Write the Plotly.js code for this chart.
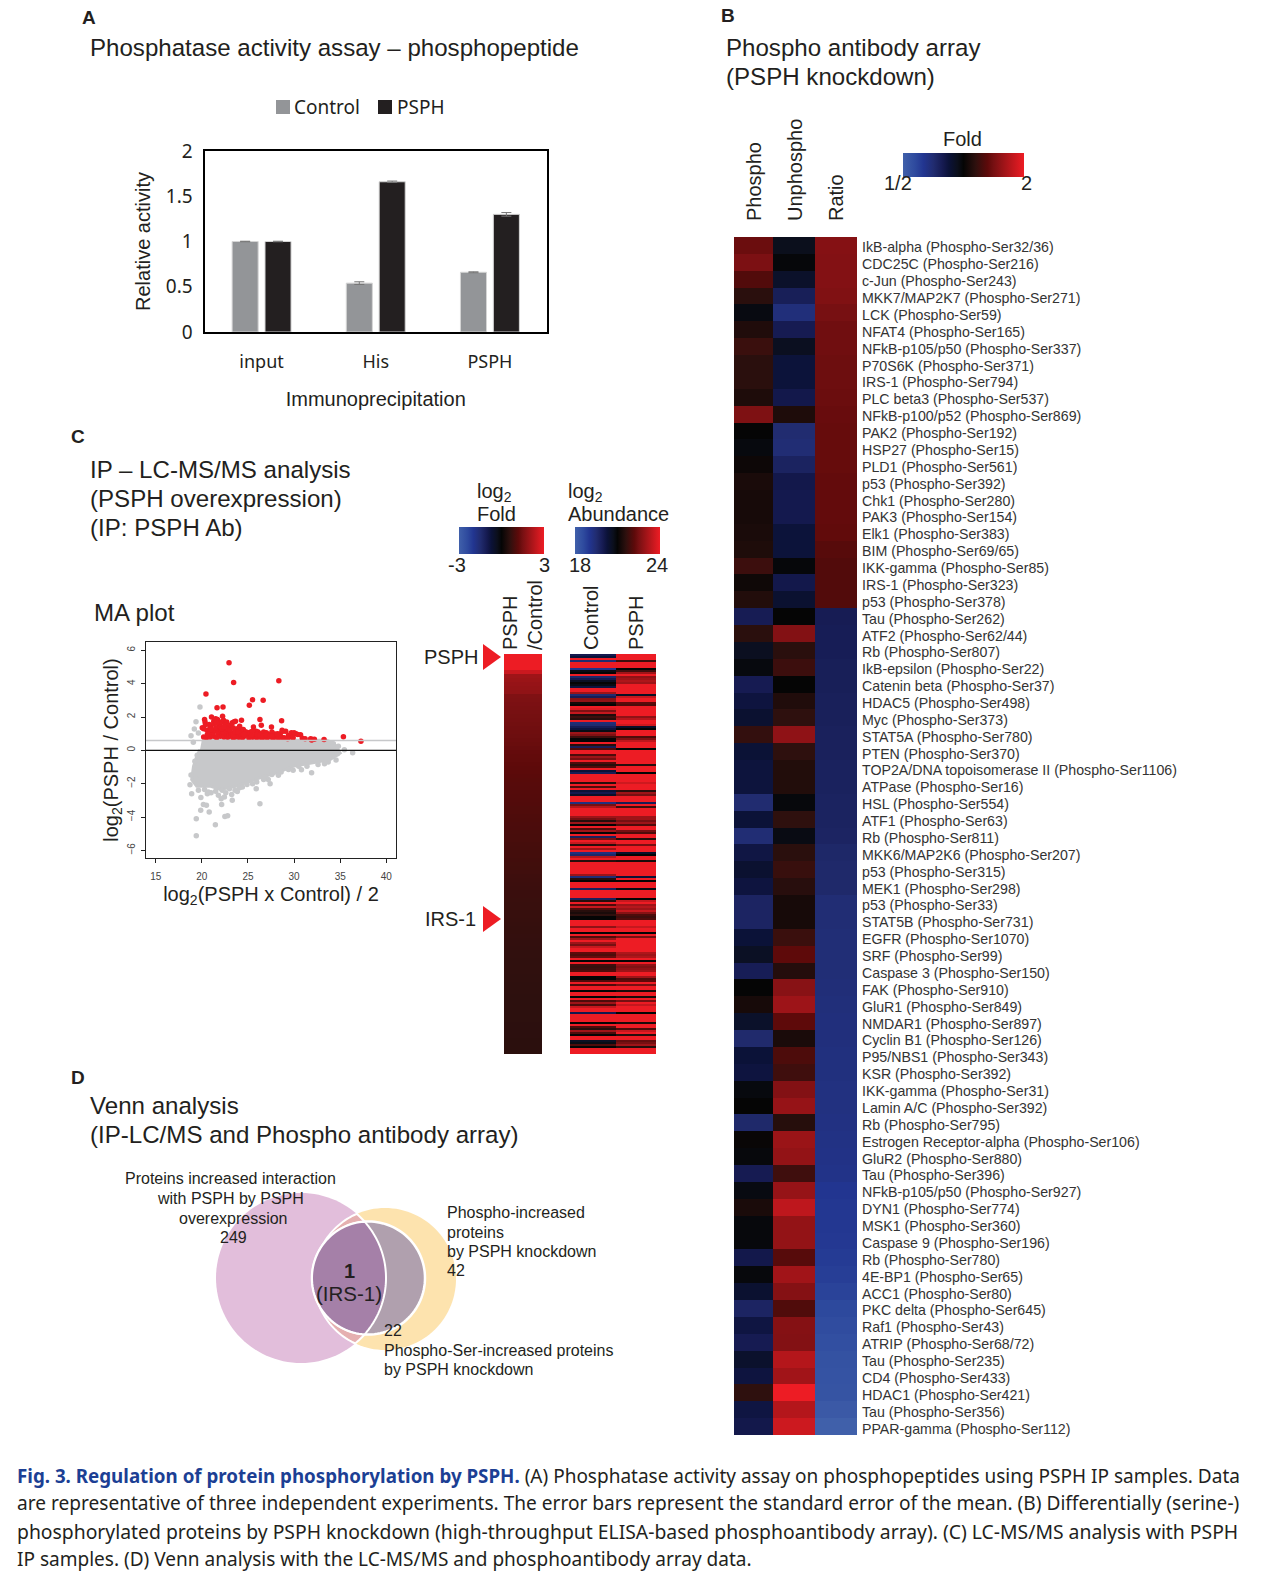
<!DOCTYPE html>
<html><head><meta charset="utf-8">
<script src="https://cdn.plot.ly/plotly-3.0.1.min.js"></script>
<style>html,body{margin:0;padding:0;background:#fff}#chart{width:1261px;height:1583px}</style>
</head><body><div id="chart"></div>
<script>
const W=1261,H=1583;
// ---------- Panel A ----------
const assayCats=['input','His','PSPH'];
const assayControl=[1.0,0.54,0.66];
const assayPSPH=[1.0,1.66,1.30];
const assayControlErr=[0.003,0.015,0.005];
const assayPSPHErr=[0.003,0.008,0.02];
// ---------- Panel B ----------
const arrayLabels=['IkB-alpha (Phospho-Ser32/36)','CDC25C (Phospho-Ser216)','c-Jun (Phospho-Ser243)','MKK7/MAP2K7 (Phospho-Ser271)','LCK (Phospho-Ser59)','NFAT4 (Phospho-Ser165)','NFkB-p105/p50 (Phospho-Ser337)','P70S6K (Phospho-Ser371)','IRS-1 (Phospho-Ser794)','PLC beta3 (Phospho-Ser537)','NFkB-p100/p52 (Phospho-Ser869)','PAK2 (Phospho-Ser192)','HSP27 (Phospho-Ser15)','PLD1 (Phospho-Ser561)','p53 (Phospho-Ser392)','Chk1 (Phospho-Ser280)','PAK3 (Phospho-Ser154)','Elk1 (Phospho-Ser383)','BIM (Phospho-Ser69/65)','IKK-gamma (Phospho-Ser85)','IRS-1 (Phospho-Ser323)','p53 (Phospho-Ser378)','Tau (Phospho-Ser262)','ATF2 (Phospho-Ser62/44)','Rb (Phospho-Ser807)','IkB-epsilon (Phospho-Ser22)','Catenin beta (Phospho-Ser37)','HDAC5 (Phospho-Ser498)','Myc (Phospho-Ser373)','STAT5A (Phospho-Ser780)','PTEN (Phospho-Ser370)','TOP2A/DNA topoisomerase II (Phospho-Ser1106)','ATPase (Phospho-Ser16)','HSL (Phospho-Ser554)','ATF1 (Phospho-Ser63)','Rb (Phospho-Ser811)','MKK6/MAP2K6 (Phospho-Ser207)','p53 (Phospho-Ser315)','MEK1 (Phospho-Ser298)','p53 (Phospho-Ser33)','STAT5B (Phospho-Ser731)','EGFR (Phospho-Ser1070)','SRF (Phospho-Ser99)','Caspase 3 (Phospho-Ser150)','FAK (Phospho-Ser910)','GluR1 (Phospho-Ser849)','NMDAR1 (Phospho-Ser897)','Cyclin B1 (Phospho-Ser126)','P95/NBS1 (Phospho-Ser343)','KSR (Phospho-Ser392)','IKK-gamma (Phospho-Ser31)','Lamin A/C (Phospho-Ser392)','Rb (Phospho-Ser795)','Estrogen Receptor-alpha (Phospho-Ser106)','GluR2 (Phospho-Ser880)','Tau (Phospho-Ser396)','NFkB-p105/p50 (Phospho-Ser927)','DYN1 (Phospho-Ser774)','MSK1 (Phospho-Ser360)','Caspase 9 (Phospho-Ser196)','Rb (Phospho-Ser780)','4E-BP1 (Phospho-Ser65)','ACC1 (Phospho-Ser80)','PKC delta (Phospho-Ser645)','Raf1 (Phospho-Ser43)','ATRIP (Phospho-Ser68/72)','Tau (Phospho-Ser235)','CD4 (Phospho-Ser433)','HDAC1 (Phospho-Ser421)','Tau (Phospho-Ser356)','PPAR-gamma (Phospho-Ser112)'];
const arrayColumns=['Phospho','Unphospho','Ratio'];
const arrayPhospho=[.45,.52,.35,.18,-.05,.13,.25,.18,.18,.12,.53,0,-.04,.04,.1,.09,.09,.1,.12,.26,.05,.14,-.36,.18,-.12,-.04,-.35,-.27,-.2,.22,-.23,-.26,-.26,-.5,-.24,-.52,-.29,-.2,-.27,-.43,-.43,-.24,-.14,-.37,0,.09,-.17,-.48,-.24,-.27,-.04,0,-.47,.02,-.03,-.35,-.05,.1,-.03,-.03,-.32,-.03,-.2,-.43,-.28,-.35,-.18,-.27,.2,-.28,-.32];
const arrayUnphospho=[-.1,-.02,-.17,-.38,-.55,-.35,-.12,-.25,-.25,-.32,.12,-.5,-.52,-.42,-.32,-.33,-.33,-.25,-.25,-.02,-.32,-.2,0,.55,.18,.26,0,.13,.2,.6,.2,.14,.14,-.03,.2,-.06,.18,.24,.17,.09,.09,.25,.4,.15,.57,.66,.4,.1,.33,.27,.55,.63,.16,.65,.62,.27,.63,.8,.62,.62,.37,.68,.56,.34,.56,.55,.76,.68,1,.76,.86];
const arrayRatio=[.56,.55,.55,.54,.5,.47,.47,.46,.46,.45,.44,.43,.43,.43,.42,.42,.42,.41,.37,.35,.35,.35,-.36,-.37,-.37,-.38,-.38,-.39,-.39,-.4,-.4,-.41,-.41,-.42,-.42,-.43,-.46,-.47,-.47,-.52,-.52,-.53,-.53,-.53,-.54,-.55,-.56,-.56,-.57,-.57,-.58,-.58,-.59,-.6,-.61,-.62,-.66,-.67,-.67,-.68,-.7,-.72,-.75,-.79,-.82,-.85,-.87,-.88,-.89,-.94,-1];
const arrayColumnEdges=[0,.95,1.97,3];
// ---------- Panel C: MA plot ----------
const maGreyEnvX=[20,33.5,34.3,35,33.9,32.1,29.9,28.1,26.3,23.8,22,20.9,19.45,18.9,19.1,19.45,19.8];
const maGreyEnvY=[.6,.6,.44,-.16,-.56,-.76,-.96,-1.35,-1.65,-2.15,-2.35,-2.15,-2.15,-1.75,-.96,-.36,.04];
const maGreyX=[19.8,19.37,19.19,18.83,19.63,19.08,18.83,18.72,18.9,19.63,19.9,19.88,20.17,20.5,20.8,19.4,19.4,21.47,22.5,22.8,22.15,23.3,23.24,22.45,23.85,25.9,26.3,27.4,25.95,27.2,31.9,30.8,33.3,34.55,36.35,35.45,34.26,34.08,34.8,34.7,20.6,21,21.5,21.8,22.2,23,24.4,24.9,25.5,26.9,27.6,28.6,29.4,29.9,30.5,31.4,32.6,33.7,19.5,19.25,19.35,20.3,20.7,22.1,22.6,23.6,24.1,26.7,28.3];
const maGreyY=[2.6,1.72,1.28,.88,1.04,.48,-1.48,-2.06,-2.6,-2.4,-2.83,-3.6,-3.25,-3.3,-3.7,-4.1,-5.13,-4.47,-3.97,-3.93,-3.25,-3,-2.65,-2.8,-2.47,-2.3,-3.2,-2,-1.9,-1.75,-1.34,-1.16,-.8,-.58,-.14,.04,.4,.2,.24,-.2,-2.6,-2.55,-2.45,-2.7,-2.4,-2.3,-2.2,-2.05,-2,-1.6,-1.45,-1.3,-1.15,-1.2,-.95,-.95,-.85,-.7,-.3,-.65,-1.7,-2.35,-2.5,-2.9,-2.55,-2.4,-2.25,-1.75,-1.5];
const maRedX=[22.95,23.45,28.35,20.45,21.65,22.3,25.15,25.5,26.65,26.3,28.65,24.3,26.45,27.55,35.35,37.25,33.25,32,31.9,30.7,30.2,29.7,29.6,20.3,20.35,20.2,20.05,20.4,20.55,20.8,21,21.05,21.3,21.5,21.7,21.9,22.1,22.25,22.35,22.55,22.7,22.9,23.1,23.3,23.5,23.65,23.85,24.1,24.3,24.5,24.7,25,25.3,25.6,25.9,26.1,26.4,26.7,27,27.3,27.6,27.9,28.2,28.5,28.8,29.1,29.4,30,30.4,31.8,20.2,20.5,20.7,20.9,21.1,21.3,21.6,21.8,22,22.2,22.4,22.6,22.8,23,23.2,23.4,23.6,23.8,24,24.2,24.4,24.6,24.8,25.1,25.3,25.5,25.7,25.95,26.2,26.5,26.8,27.1,27.4,27.7,28,28.3,28.6,28.9,29.3,29.8,20.6,20.9,21.2,21.4,21.7,21.9,22.1,22.3,22.5,22.7,22.9,23.2,23.4,23.7,24,24.2,24.5,24.8,25.2,25.4,25.5,26,26.3,26.6,27,27.4,27.6,28.2,28.7,28.9,20.9,21.2,21.55,22,22.2,22.5,22.8,23.05,23.4,23.6,21.3,21.6,21,22.15,22.4,24.6,23.9,30.9,29.9,29.3,31.2,32.2];
const maRedY=[5.25,4.07,4.18,3.38,2.56,2.6,2.71,3.03,3,1.85,1.78,1.8,1.5,1.4,.82,.55,.65,.65,.62,.93,1,1.05,.85,1.85,1.7,1.3,1.35,1.55,1.2,1.55,1.4,2.0,1.75,1.9,1.85,1.55,1.7,2.05,1.8,1.6,1.7,1.45,1.5,1.65,1.72,1.75,1.3,1.45,1.2,1.25,1.1,1.05,1.1,1.4,1.15,1.1,1,1.1,1.05,.95,1.1,.98,.9,1,1.15,1.15,.9,1.05,.95,.7,.8,.75,.85,.8,.95,.85,.75,1,.85,.9,.8,1,.78,.9,.85,.75,.8,1.05,.78,.9,.75,.85,.95,.75,.85,.78,.88,.75,.85,.72,.8,.75,.9,.72,.8,.75,.78,.72,.75,.78,.95,1.1,1.05,1.2,1.1,1.25,1.2,1.1,1.3,1.15,1.2,1.05,.95,1.15,1.1,1,.95,1.1,1,.9,1.15,.95,.9,.85,.9,.85,.85,1,1.2,.75,1.35,1.2,1.35,1.4,1.3,1.5,1.3,1.2,1.35,1.1,1.6,1.65,1.25,1.3,1.4,.95,1.1,.72,.75,.7,.7,.66];
// ---------- Panel C: heatmaps ----------
const foldRows=[3,3,3,3,2.55,2,1.95,1.9,1.85,1.82,
1.6,1.57,1.55,1.53,1.5,1.48,1.46,1.44,1.42,1.4,
1.38,1.36,1.33,1.3,1.27,1.25,1.23,1.21,1.19,1.17,
1.15,1.13,1.11,1.1,1.09,1.07,1.06,1.05,1.03,1.02,
1,.99,.97,.96,.94,.93,.92,.9,.89,.88,
.87,.85,.84,.83,.82,.8,.79,.77,.76,.75,
.75,.74,.73,.72,.71,.71,.7,.69,.68,.68,
.67,.66,.66,.65,.64,.64,.63,.63,.62,.62,
.61,.61,.6,.6,.6,.59,.59,.59,.58,.58,
.58,.58,.57,.57,.57,.57,.56,.56,.56,.56];
const abundanceControl=[20,20.3,24,19.5,24,24,24,19.1,20.8,21,
24,19.6,20,20.6,21,20.8,20.2,24,24,23,
19.5,19.9,22.7,22.8,21.2,21,24,23.8,22.6,23.5,
21.4,21.8,21.5,24,19.4,19.5,19.9,20.2,20.8,23,
22.6,21.8,21,21,24,21.5,19.9,22,24,24,
22,23,22.5,24,22,21.5,22,24,20.3,19.9,
24,24,24,24,21.5,24,22,24,
20.3,20,20.5,24,24,24,19.3,22.5,23.3,24,
24,24,24,23,22.5,21.5,23,21,24,22,
23,21,24,19.8,22.5,24,23.5,21.5,24,23,
24,19.3,19.6,23.3,24,21.5,24,24,24,24,
24,24,23,19.4,21.5,21,24,24,24,19.8,
24,24,24,24,19.8,21.5,24,22,23.5,22,
21.5,21.3,21.6,21,21,24,24,24,22.8,24,
24,21,24,22,23,24,23,22.5,23.5,24,
24,22.2,22,22.3,24,21,24,21.8,21.7,21.8,
22,24,24,21,21,22,24,22,24,24,
21,24,24,21,24,22,23,22,23.5,24,
24,20,24,24,24,24,21,24,22,21.5,23,
22,21,24,24,20.6,20.8,22,21,24,24,24];
const abundancePSPH=[24,24,24,21.8,24,24,24,21,21.8,23,
24,22.8,23,23.2,23,24,24,24,24,24,
20.6,23.5,24,24,22.2,22,24,24,24,24,
24,22.8,23.3,24,24,23.6,20.5,21,24,24,
24,22,22.6,23.4,24,24,24,21,24,24,
24,24,24,24,24,21.5,24,24,24,21,
24,24,24,24,23.6,24,24,24,
21.5,23,22.5,24,24,24,19.9,24,21.8,24,
24,24,24,23,23,22.5,23,22,24,24,
22.5,22,24,24,21.5,24,24,22.5,24,24,
24,20.5,21,24,24,21.3,24,24,24,24,
24,24,24,20.3,24,21,24,24,24,20.8,
24,24,24,24,21,23.5,24,23,23.3,23,
23.5,22.7,22,21.8,22,24,24,24,23.5,24,
24,21,24,22.5,24,24,24,24,24,24,
24,23.2,23,23.2,24,21,24,22.8,22.6,22.8,
23,24,24,23,22,22.2,24,22.5,24,24,
21.3,24,24,21.3,24,22.5,24,23.5,24,24,
24,21,24,24,24,24,21.3,24,24,22,23.5,
24,21.5,24,24,22.3,22.5,23,21.5,24,24,24];
const abundanceColumnEdges=[0,1.07,2];
const heatScale=[[0,'#4060aa'],[.1,'#2e4a9e'],[.17,'#223590'],[.25,'#212c70'],[.33,'#151a50'],[.38,'#0b1238'],[.45,'#0b0f1c'],[.5,'#050505'],[.6,'#2e100e'],[.7,'#5e0a0a'],[.75,'#771012'],[1,'#ed1c24']];

// ---------- helpers ----------
const FONT='"Liberation Sans",Arial,sans-serif', KFONT='"Noto Sans",sans-serif', INK='#231f20';
const dx=(a,b)=>[a/W,b/W], dy=(t,b)=>[1-b/H,1-t/H], px=x=>x/W, py=y=>1-y/H;
const note=(text,x,y,o={})=>Object.assign({text,x:px(x),y:py(y),xref:'paper',yref:'paper',showarrow:false,xanchor:'left',yanchor:'middle',borderpad:0,font:{family:FONT,size:16,color:INK}},o);
const fnt=(size,extra={})=>Object.assign({family:FONT,size,color:INK},extra);
const cap=(size)=>({font:{family:KFONT,size,color:INK}});
const bar=(o)=>({orientation:'h',lenmode:'pixels',thickness:24,thicknessmode:'pixels',xpad:0,ypad:0,outlinewidth:0,ticks:'',showticklabels:false,xanchor:'left',yanchor:'top',...o});

const traces=[
 {type:'bar',x:assayCats,y:assayControl,name:'Control',xaxis:'x',yaxis:'y',marker:{color:'#939598',line:{color:'#d5d5d5',width:1}},error_y:{type:'data',array:assayControlErr,color:'#777',thickness:1,width:5},showlegend:false},
 {type:'bar',x:assayCats,y:assayPSPH,name:'PSPH',xaxis:'x',yaxis:'y',marker:{color:INK,line:{color:'#d5d5d5',width:1}},error_y:{type:'data',array:assayPSPHErr,color:'#777',thickness:1,width:5},showlegend:false},
 {type:'heatmap',x:arrayColumnEdges,y:arrayLabels,z:arrayLabels.map((_,i)=>[arrayPhospho[i],arrayUnphospho[i],arrayRatio[i]]),xaxis:'x2',yaxis:'y2',zmin:-1,zmax:1,colorscale:heatScale,
  colorbar:bar({x:px(903),y:py(153),len:121})},
 {type:'scatter',mode:'lines',x:maGreyEnvX,y:maGreyEnvY,xaxis:'x3',yaxis:'y3',fill:'toself',fillcolor:'#c7c8ca',line:{color:'#c7c8ca',width:3},showlegend:false,hoverinfo:'skip'},
 {type:'scatter',mode:'markers',x:maGreyX,y:maGreyY,xaxis:'x3',yaxis:'y3',marker:{color:'#c7c8ca',size:5.5},showlegend:false},
 {type:'scatter',mode:'markers',x:maRedX,y:maRedY,xaxis:'x3',yaxis:'y3',marker:{color:'#ed1c24',size:5.5},showlegend:false},
 {type:'heatmap',x:['PSPH/Control'],z:foldRows.map(v=>[v]),xaxis:'x4',yaxis:'y4',zmin:-3,zmax:3,colorscale:heatScale,
  colorbar:bar({x:px(459),y:py(527),len:85,thickness:27})},
 {type:'heatmap',x:abundanceColumnEdges,z:abundanceControl.map((v,i)=>[v,abundancePSPH[i]]),xaxis:'x5',yaxis:'y5',zmin:18,zmax:24,colorscale:heatScale,
  colorbar:bar({x:px(575),y:py(527),len:85,thickness:27})}
];

// ---------- Venn ----------
const pink={x:301,y:1278,r:85}, yellow={x:385,y:1279,r:71}, inner={x:368.5,y:1278,r:56.5};
function circlePts(c,from,to,n){const p=[];for(let i=0;i<=n;i++){const t=from+(to-from)*i/n;p.push([c.x+c.r*Math.cos(t),c.y+c.r*Math.sin(t)]);}return p;}
function toPath(p){return 'M'+p.map(q=>px(q[0]).toFixed(5)+','+py(q[1]).toFixed(5)).join(' L')+' Z';}
function lens(a,b){const d=Math.hypot(b.x-a.x,b.y-a.y),base=Math.atan2(b.y-a.y,b.x-a.x);
 const pa=Math.acos((d*d+a.r*a.r-b.r*b.r)/(2*d*a.r)), pb=Math.acos((d*d+b.r*b.r-a.r*a.r)/(2*d*b.r));
 return circlePts(a,base-pa,base+pa,60).concat(circlePts(b,base+Math.PI-pb,base+Math.PI+pb,60));}
const circ=(c,fill,line)=>({type:'path',xref:'paper',yref:'paper',path:toPath(circlePts(c,0,2*Math.PI,120)),fillcolor:fill,line:line||{width:0}});
const poly=(pts,fill,line)=>({type:'path',xref:'paper',yref:'paper',path:toPath(pts),fillcolor:fill,line:line||{width:0}});
const rect=(x0,y0,x1,y1,fill)=>({type:'rect',xref:'paper',yref:'paper',x0:px(x0),x1:px(x1),y0:py(y0),y1:py(y1),fillcolor:fill,line:{width:0}});
const white={color:'#ffffff',width:2};
const shapes=[
 rect(276,100,290,114,'#939598'), rect(378,100,392,114,INK),
 poly([[483,644],[501,657],[483,670]],'#ed1c24'), poly([[483,906],[501,919],[483,932]],'#ed1c24'),
 circ(pink,'#e2bedb'), circ(yellow,'#fde3ae'),
 poly(lens(pink,yellow),'#e5b0b0',white),
 circ(inner,'#b0a0ae',{color:'#ffffff',width:2.5}),
 poly(lens(pink,inner),'#a580a8',white),
 {type:'line',xref:'x3',yref:'y3',x0:13.95,x1:41.05,y0:0.585,y1:0.585,line:{color:'#c7c8ca',width:1.5}},
 {type:'line',xref:'x3',yref:'y3',x0:13.95,x1:41.05,y0:0,y1:0,line:{color:'#111',width:1.2}}
];

const annotations=[
 note('<b>A</b>',81,17,{font:fnt(19)}),
 note('Phosphatase activity assay – phosphopeptide',89,47.5,{font:fnt(24.1)}),
 note('Control',293,107,{font:{family:KFONT,size:19,color:INK}}),
 note('PSPH',396,107,{font:{family:KFONT,size:19,color:INK}}),
 note('<b>B</b>',720,15.5,{font:fnt(19)}),
 note('Phospho antibody array',725,47.5,{font:fnt(24.1)}),
 note('(PSPH knockdown)',725,76,{font:fnt(24.1)}),
 note('Fold',963,139,{xanchor:'center',font:fnt(20)}),
 note('1/2',898,183,{xanchor:'center',font:fnt(20)}),
 note('2',1026,183,{xanchor:'center',font:fnt(20)}),
 note('<b>C</b>',70,437,{font:fnt(19)}),
 note('IP – LC-MS/MS analysis',89,469,{font:fnt(24.1)}),
 note('(PSPH overexpression)',89,498.5,{font:fnt(24.1)}),
 note('(IP: PSPH Ab)',89,527.5,{font:fnt(24.1)}),
 note('MA plot',93,612,{font:fnt(24.1)}),
 note('log<sub>2</sub>',475.5,492,{font:fnt(20)}),
 note('Fold',475.5,514,{font:fnt(20)}),
 note('log<sub>2</sub>',567,492,{font:fnt(20)}),
 note('Abundance',567,514,{font:fnt(20)}),
 note('-3',457,565,{xanchor:'center',font:fnt(20)}),
 note('3',544,565,{xanchor:'center',font:fnt(20)}),
 note('18',580,565,{xanchor:'center',font:fnt(20)}),
 note('24',657,565,{xanchor:'center',font:fnt(20)}),
 note('PSPH',510,651,{xanchor:'center',yanchor:'bottom',textangle:-90,font:fnt(20)}),
 note('/Control',535,651,{xanchor:'center',yanchor:'bottom',textangle:-90,font:fnt(20)}),
 note('Control',591,651,{xanchor:'center',yanchor:'bottom',textangle:-90,font:fnt(20)}),
 note('PSPH',636,651,{xanchor:'center',yanchor:'bottom',textangle:-90,font:fnt(20)}),
 note('PSPH',423,657,{font:fnt(20)}),
 note('IRS-1',424,919,{font:fnt(20)}),
 note('<b>D</b>',70,1077,{font:fnt(19)}),
 note('Venn analysis',89,1105,{font:fnt(24.1)}),
 note('(IP-LC/MS and Phospho antibody array)',89,1134,{font:fnt(24.1)}),
 note('Proteins increased interaction',231,1178.5,{xanchor:'center'}),
 note('with PSPH by PSPH',231,1198.5,{xanchor:'center'}),
 note('overexpression',233,1218.5,{xanchor:'center'}),
 note('249',233,1237.5,{xanchor:'center'}),
 note('Phospho-increased',446,1212.5,{}),
 note('proteins',446,1232.5,{}),
 note('by PSPH knockdown',446,1251.5,{}),
 note('42',446,1270.5,{}),
 note('<b>1</b>',349,1271,{xanchor:'center',font:fnt(20)}),
 note('(IRS-1)',349,1293,{xanchor:'center',font:fnt(20.5)}),
 note('22',383,1330.5,{}),
 note('Phospho-Ser-increased proteins',383,1350,{}),
 note('by PSPH knockdown',383,1369,{}),
 note('<b><span style="color:#1c3f94;font-size:18.75px">Fig. 3. Regulation of protein phosphorylation by PSPH.</span></b> (A) Phosphatase activity assay on phosphopeptides using PSPH IP samples. Data',16,1476,cap(19)),
 note('are representative of three independent experiments. The error bars represent the standard error of the mean. (B) Differentially (serine-)',16,1503,cap(19.1)),
 note('phosphorylated proteins by PSPH knockdown (high-throughput ELISA-based phosphoantibody array). (C) LC-MS/MS analysis with PSPH',16,1531,cap(19.35)),
 note('IP samples. (D) Venn analysis with the LC-MS/MS and phosphoantibody array data.',16,1559,cap(19.05))
];

const hidden={showgrid:false,zeroline:false,showticklabels:false,ticks:'',showline:false,fixedrange:true};
const layout={width:W,height:H,margin:{l:0,r:0,t:0,b:0},paper_bgcolor:'#fff',plot_bgcolor:'#fff',showlegend:false,
 barmode:'group',bargap:.424,bargroupgap:.208,
 xaxis:{domain:dx(204.5,547),anchor:'y',tickfont:{family:KFONT,size:18,color:INK},ticks:'',showline:true,linecolor:'#000',linewidth:2,mirror:true,ticklabelstandoff:12,
  title:{text:'Immunoprecipitation',font:fnt(20),standoff:20}},
 yaxis:{domain:dy(151,332),anchor:'x',range:[0,2],tickvals:[0,.5,1,1.5,2],ticktext:['0','0.5','1','1.5','2'],tickfont:{family:KFONT,size:19,color:INK},ticks:'',showgrid:false,zeroline:false,showline:true,linecolor:'#000',linewidth:2,mirror:true,ticklabelstandoff:6,
  title:{text:'Relative activity',font:fnt(20),standoff:10}},
 xaxis2:{domain:dx(734,857),anchor:'y2',side:'top',range:[0,3],tickmode:'array',tickvals:[.5,1.5,2.5],ticktext:arrayColumns,tickangle:-90,tickfont:fnt(20),ticks:'',showgrid:false,zeroline:false,ticklabelstandoff:15},
 yaxis2:{domain:dy(237,1435),anchor:'x2',side:'right',type:'category',autorange:'reversed',tickmode:'array',tickvals:arrayLabels,ticktext:arrayLabels,ticklabelshift:-2,tickfont:{family:FONT,size:14.2,color:'#333'},ticks:'',showgrid:false,zeroline:false,ticklabelstandoff:4},
 xaxis3:{domain:dx(146,396),anchor:'y3',range:[13.95,41.05],tickvals:[15,20,25,30,35,40],tickfont:{family:FONT,size:10,color:'#444'},ticks:'outside',ticklen:4,tickcolor:'#222',showgrid:false,zeroline:false,showline:true,linecolor:'#222',linewidth:1,mirror:true,ticklabelstandoff:5,
  title:{text:'log<sub>2</sub>(PSPH x Control) / 2',font:fnt(20),standoff:5}},
 yaxis3:{domain:dy(642,858),anchor:'x3',range:[-6.46,6.5],tickvals:[-6,-4,-2,0,2,4,6],tickangle:-90,tickfont:{family:FONT,size:10,color:'#444'},ticks:'outside',ticklen:4,tickcolor:'#222',showgrid:false,zeroline:false,showline:true,linecolor:'#222',linewidth:1,mirror:true,ticklabelstandoff:2,
  title:{text:'log<sub>2</sub>(PSPH / Control)',font:fnt(20),standoff:2}},
 xaxis4:Object.assign({domain:dx(504,542),anchor:'y4'},hidden),
 yaxis4:Object.assign({domain:dy(654,1054),anchor:'x4',autorange:'reversed'},hidden),
 xaxis5:Object.assign({domain:dx(570,656),anchor:'y5'},hidden),
 yaxis5:Object.assign({domain:dy(654,1054),anchor:'x5',autorange:'reversed'},hidden),
 shapes,annotations
};
Plotly.newPlot('chart',traces,layout,{displayModeBar:false,staticPlot:true});
</script></body></html>
